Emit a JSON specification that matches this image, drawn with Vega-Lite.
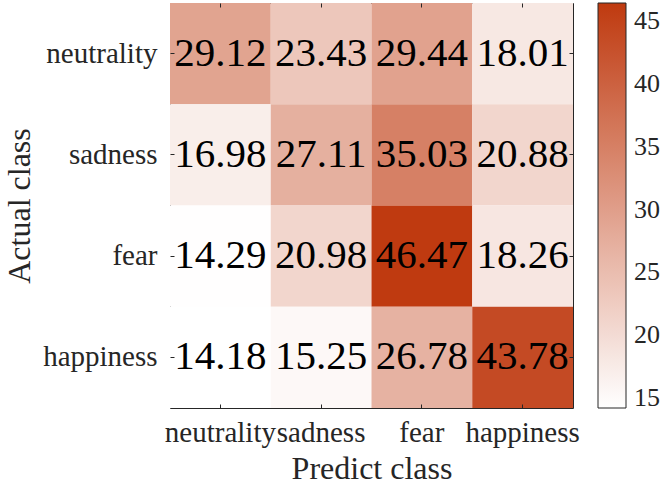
{
  "$schema": "https://vega.github.io/schema/vega-lite/v6.json",
  "width": 403,
  "height": 405,
  "autosize": "none",
  "padding": {"left": 170, "top": 3, "right": 91, "bottom": 80},
  "background": "white",
  "config": {
    "font": "Times New Roman",
    "view": {"stroke": "#262626", "strokeWidth": 1},
    "axis": {"labelFont": "Times New Roman", "titleFont": "Times New Roman", "labelColor": "#262626", "titleColor": "#262626", "titleFontWeight": "normal", "domain": false, "grid": false, "tickColor": "#262626"},
    "legend": {"labelFont": "Times New Roman", "labelColor": "#262626"},
    "text": {"font": "Times New Roman"}
  },
  "data": {"values": [
    {"actual": "neutrality", "predict": "neutrality", "value": 29.12},
    {"actual": "neutrality", "predict": "sadness", "value": 23.43},
    {"actual": "neutrality", "predict": "fear", "value": 29.44},
    {"actual": "neutrality", "predict": "happiness", "value": 18.01},
    {"actual": "sadness", "predict": "neutrality", "value": 16.98},
    {"actual": "sadness", "predict": "sadness", "value": 27.11},
    {"actual": "sadness", "predict": "fear", "value": 35.03},
    {"actual": "sadness", "predict": "happiness", "value": 20.88},
    {"actual": "fear", "predict": "neutrality", "value": 14.29},
    {"actual": "fear", "predict": "sadness", "value": 20.98},
    {"actual": "fear", "predict": "fear", "value": 46.47},
    {"actual": "fear", "predict": "happiness", "value": 18.26},
    {"actual": "happiness", "predict": "neutrality", "value": 14.18},
    {"actual": "happiness", "predict": "sadness", "value": 15.25},
    {"actual": "happiness", "predict": "fear", "value": 26.78},
    {"actual": "happiness", "predict": "happiness", "value": 43.78}
  ]},
  "layer": [
    {
      "mark": {"type": "rect"},
      "encoding": {
        "x": {"field": "predict", "type": "nominal", "sort": ["neutrality", "sadness", "fear", "happiness"], "scale": {"paddingInner": 0, "paddingOuter": 0},
          "axis": {"title": "Predict class", "orient": "bottom", "labelAngle": 0, "labelFontSize": 29, "titleFontSize": 32, "tickSize": -4, "labelPadding": 14, "titlePadding": 6}},
        "y": {"field": "actual", "type": "nominal", "sort": ["neutrality", "sadness", "fear", "happiness"], "scale": {"paddingInner": 0, "paddingOuter": 0},
          "axis": {"title": "Actual class", "orient": "left", "labelFontSize": 29, "titleFontSize": 32, "tickSize": -4, "labelPadding": 17, "titlePadding": 6}},
        "color": {"field": "value", "type": "quantitative",
          "scale": {"type": "linear", "domain": [14.18, 46.47], "range": ["#ffffff", "#bf3a10"], "interpolate": "rgb"},
          "legend": {"title": null, "orient": "right", "offset": 24, "padding": 0, "gradientLength": 405, "gradientThickness": 28, "gradientStrokeColor": "#262626", "gradientStrokeWidth": 1, "labelFontSize": 26, "labelOffset": 8, "values": [15, 20, 25, 30, 35, 40, 45]}}
      }
    },
    {
      "mark": {"type": "text", "fontSize": 41, "color": "black", "baseline": "middle", "font": "Times New Roman"},
      "encoding": {
        "x": {"field": "predict", "type": "nominal", "sort": ["neutrality", "sadness", "fear", "happiness"], "axis": null},
        "y": {"field": "actual", "type": "nominal", "sort": ["neutrality", "sadness", "fear", "happiness"], "axis": null},
        "text": {"field": "value", "type": "quantitative", "format": ".2f"}
      }
    },
    {
      "mark": {"type": "rect", "opacity": 0},
      "encoding": {
        "x": {"field": "predict", "type": "nominal", "sort": ["neutrality", "sadness", "fear", "happiness"],
          "axis": {"orient": "top", "title": null, "labels": false, "tickSize": -4}},
        "y": {"field": "actual", "type": "nominal", "sort": ["neutrality", "sadness", "fear", "happiness"],
          "axis": {"orient": "right", "title": null, "labels": false, "tickSize": -4}}
      }
    }
  ],
  "resolve": {"axis": {"x": "independent", "y": "independent"}}
}
